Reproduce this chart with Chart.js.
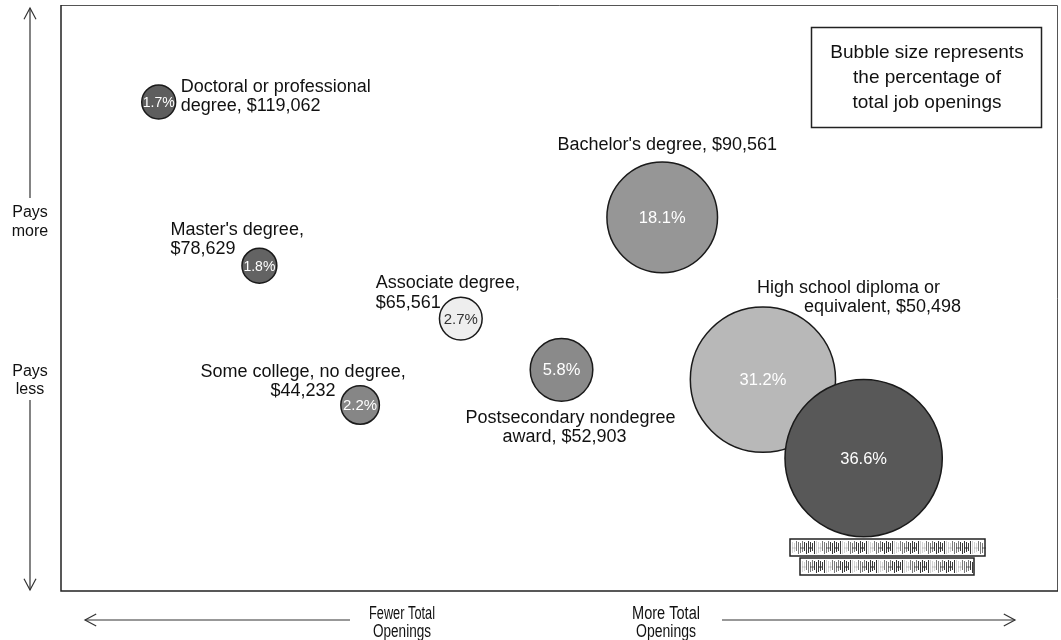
<!DOCTYPE html>
<html>
<head>
<meta charset="utf-8">
<script src="https://cdn.jsdelivr.net/npm/chart.js@4"></script>
<style>
    body { margin: 0; background: #fff; }
    #wrap { width: 1061px; height: 640px; position: relative; }
</style>
</head>
<body>
<div id="wrap"><canvas id="bubbleChart"></canvas></div>
<script>
// Data (ordered by share of job openings)
const categories = [
    'Doctoral or professional degree',
    "Master's degree",
    'Some college, no degree',
    'Associate degree',
    'Postsecondary nondegree award',
    "Bachelor's degree",
    'High school diploma or equivalent',
    'No formal educational credential'
];
const openingsRank = [1, 2, 3, 4, 5, 6, 7, 8];
const medianWage = [119062, 78629, 44232, 65561, 52903, 90561, 50498, 31100];
const openingsShare = [1.7, 1.8, 2.2, 2.7, 5.8, 18.1, 31.2, 36.6];

// label lines; wage is appended to the last line (null = illegible label)
const labelLines = [
    ['Doctoral or professional', 'degree,'],
    ["Master's degree,", ''],
    ['Some college, no degree,', ''],
    ['Associate degree,', ''],
    ['Postsecondary nondegree', 'award,'],
    ["Bachelor's degree,"],
    ['High school diploma or', 'equivalent,'],
    null
];

const fills = ['#5e5e5e', '#636363', '#868686', '#eeeeee', '#8a8a8a', '#969696', '#b8b8b8', '#585858'];

const fmtWage = w => '$' + w.toLocaleString('en-US');

// Label placement relative to bubble centre
const labelLayout = [
    { lines: [{ dx: 22, dy: -10, align: 'left' }, { dx: 22, dy: 9, align: 'left' }] },
    { lines: [{ dx: -89, dy: -31, align: 'left' }, { dx: -89, dy: -12, align: 'left' }] },
    { lines: [{ dx: -57, dy: -28, align: 'center' }, { dx: -57, dy: -9, align: 'center' }] },
    { lines: [{ dx: -85, dy: -31, align: 'left' }, { dx: -85, dy: -11, align: 'left' }] },
    { lines: [{ dx: 9, dy: 53, align: 'center' }, { dx: 3, dy: 72, align: 'center' }] },
    { lines: [{ dx: 5, dy: -67, align: 'center' }] },
    { lines: [{ dx: -6, dy: -87, align: 'left' }, { dx: 41, dy: -68, align: 'left' }] },
    null
];

const FONT = '"Liberation Sans", Arial, sans-serif';

const frame = {
    id: 'frame',
    beforeDatasetsDraw(chart) {
        const { ctx, chartArea: a } = chart;
        ctx.save();
        ctx.strokeStyle = '#555';
        ctx.lineWidth = 1;
        ctx.beginPath();
        ctx.moveTo(a.left, a.top + 0.5);
        ctx.lineTo(a.right - 0.5, a.top + 0.5);
        ctx.lineTo(a.right - 0.5, a.bottom);
        ctx.stroke();
        ctx.strokeStyle = '#222';
        ctx.lineWidth = 1.5;
        ctx.beginPath();
        ctx.moveTo(a.left, a.top);
        ctx.lineTo(a.left, a.bottom);
        ctx.lineTo(a.right, a.bottom);
        ctx.stroke();
        ctx.restore();
    }
};

const bubbleLabels = {
    id: 'bubbleLabels',
    afterDatasetsDraw(chart) {
        const { ctx } = chart;
        const pts = chart.getDatasetMeta(0).data;
        ctx.save();
        pts.forEach((p, i) => {
            const r = p.options.radius;
            const size = r < 19 ? 14 : (r < 25 ? 15 : 16.5);
            ctx.font = size + 'px ' + FONT;
            ctx.textAlign = 'center';
            ctx.textBaseline = 'middle';
            ctx.fillStyle = i === 3 ? '#333' : '#fff';
            ctx.fillText(openingsShare[i].toFixed(1) + '%', p.x, p.y + 1);

            const lines = labelLines[i];
            const lay = labelLayout[i];
            if (!lines || !lay) return;
            ctx.font = '18px ' + FONT;
            ctx.fillStyle = '#111';
            ctx.textBaseline = 'alphabetic';
            lines.forEach((txt, k) => {
                let s = txt;
                if (k === lines.length - 1) s = (txt ? txt + ' ' : '') + fmtWage(medianWage[i]);
                const l = lay.lines[k];
                ctx.textAlign = l.align;
                ctx.fillText(s, p.x + l.dx, p.y + l.dy);
            });
        });
        ctx.restore();
    }
};

function chevron(ctx, x, y, dir) {
    const s = 7, w = 6;
    ctx.beginPath();
    if (dir === 'up') { ctx.moveTo(x - w, y + s * 1.6); ctx.lineTo(x, y); ctx.lineTo(x + w, y + s * 1.6); }
    if (dir === 'down') { ctx.moveTo(x - w, y - s * 1.6); ctx.lineTo(x, y); ctx.lineTo(x + w, y - s * 1.6); }
    if (dir === 'left') { ctx.moveTo(x + s * 1.6, y - w); ctx.lineTo(x, y); ctx.lineTo(x + s * 1.6, y + w); }
    if (dir === 'right') { ctx.moveTo(x - s * 1.6, y - w); ctx.lineTo(x, y); ctx.lineTo(x - s * 1.6, y + w); }
    ctx.stroke();
}

// scanned, unreadable label: dense dark hatching in a box
function garbledBox(ctx, x, y, w, h) {
    ctx.fillStyle = '#fff';
    ctx.fillRect(x, y, w, h);
    ctx.strokeStyle = '#222';
    ctx.lineWidth = 1;
    for (let i = 2; i < w - 1; i += 2) {
        const t = (i * 7) % 13;
        ctx.globalAlpha = t > 6 ? 0.9 : (t > 2 ? 0.6 : 0.2);
        ctx.beginPath();
        ctx.moveTo(x + i + 0.5, y + 2 + (t % 3));
        ctx.lineTo(x + i + 0.5, y + h - 2 - (t % 4));
        ctx.stroke();
        if (t % 4 === 1) {
            ctx.beginPath();
            ctx.moveTo(x + i, y + h / 2 + 0.5);
            ctx.lineTo(x + i + 4, y + h / 2 + 0.5);
            ctx.stroke();
        }
    }
    ctx.globalAlpha = 1;
    ctx.strokeStyle = '#222';
    ctx.lineWidth = 1.5;
    ctx.strokeRect(x, y, w, h);
}

const decorations = {
    id: 'decorations',
    afterDraw(chart) {
        const { ctx } = chart;
        ctx.save();

        // size note
        ctx.strokeStyle = '#222';
        ctx.lineWidth = 1.5;
        ctx.strokeRect(811.5, 27.5, 230, 100);
        ctx.fillStyle = '#111';
        ctx.font = '19px ' + FONT;
        ctx.textAlign = 'center';
        ctx.textBaseline = 'alphabetic';
        ctx.fillText('Bubble size represents', 927, 58, 200);
        ctx.fillText('the percentage of', 927, 83, 200);
        ctx.fillText('total job openings', 927, 108, 200);

        // vertical direction arrows
        ctx.strokeStyle = '#333';
        ctx.lineWidth = 1.2;
        ctx.beginPath();
        ctx.moveTo(30, 8); ctx.lineTo(30, 198);
        ctx.moveTo(30, 400); ctx.lineTo(30, 590);
        ctx.stroke();
        chevron(ctx, 30, 8, 'up');
        chevron(ctx, 30, 590, 'down');

        ctx.font = '16px ' + FONT;
        ctx.fillText('Pays', 30, 217);
        ctx.fillText('more', 30, 236);
        ctx.fillText('Pays', 30, 376);
        ctx.fillText('less', 30, 394);

        // horizontal direction arrows
        ctx.beginPath();
        ctx.moveTo(85, 620); ctx.lineTo(350, 620);
        ctx.moveTo(722, 620); ctx.lineTo(1015, 620);
        ctx.stroke();
        chevron(ctx, 85, 620, 'left');
        chevron(ctx, 1015, 620, 'right');

        ctx.font = '18px ' + FONT;
        ctx.fillText('Fewer Total', 402, 619, 66);
        ctx.fillText('Openings', 402, 637, 58);
        ctx.fillText('More Total', 666, 619, 68);
        ctx.fillText('Openings', 666, 637, 60);

        // illegible label of the largest bubble
        garbledBox(ctx, 790, 539, 195, 17);
        garbledBox(ctx, 800, 558, 174, 17);

        ctx.restore();
    }
};

const points = openingsRank.map((rank, i) => ({
    x: rank,
    y: medianWage[i],
    r: 13 * Math.sqrt(openingsShare[i])
}));

new Chart(document.getElementById('bubbleChart').getContext('2d'), {
    type: 'bubble',
    data: {
        labels: categories,
        datasets: [{
            label: 'Education level',
            data: points,
            backgroundColor: fills,
            borderColor: '#1a1a1a',
            borderWidth: 1.5,
            hoverRadius: 0,
            clip: false
        }]
    },
    options: {
        responsive: true,
        maintainAspectRatio: false,
        animation: false,
        layout: {
            autoPadding: false,
            padding: { left: 61, top: 5, right: 3, bottom: 49 }
        },
        scales: {
            x: { type: 'linear', min: 0.03, max: 9.93, display: false },
            y: { type: 'linear', min: -1700, max: 143000, display: false }
        },
        plugins: {
            legend: { display: false },
            tooltip: { enabled: false }
        }
    },
    plugins: [frame, bubbleLabels, decorations]
});
</script>
</body>
</html>
